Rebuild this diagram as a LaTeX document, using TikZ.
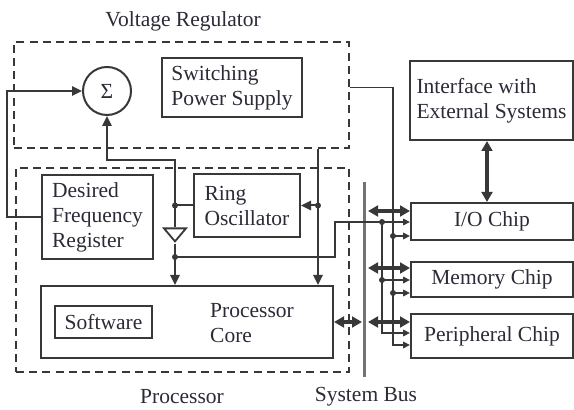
\documentclass[tikz,border=0pt]{standalone}
\usepackage{fontspec}
\setmainfont{Liberation Serif}
\usepackage{xcolor}
\usetikzlibrary{arrows.meta, positioning, calc, fit, shapes.geometric}

\definecolor{abu}{HTML}{383838}
\definecolor{tinta}{HTML}{2C2A36}

\begin{document}
\begin{tikzpicture}[
    x=0.5pt, y=-0.5pt,
    font=\fontsize{10.75}{12.5}\selectfont,
    every node/.style={text=tinta},
    kotak/.style={draw=abu, line width=1pt, align=left, inner sep=0pt},
    putus/.style={draw=abu, line width=1.1pt, dash pattern=on 4pt off 2.6pt, inner sep=0pt},
    penyangga/.style={draw=abu, fill=white, line width=0.9pt, isosceles triangle,
                      isosceles triangle stretches, shape border rotate=270,
                      inner sep=0pt, minimum width=11pt, minimum height=6.5pt},
    garis/.style={draw=abu, line width=1pt},
    bus/.style={draw=black!55, line width=1.5pt},
    panah/.style={-{Triangle[length=5pt, width=4.6pt]}, draw=abu, line width=1pt},
    panahkecil/.style={-{Triangle[length=3.4pt, width=3.2pt]}, draw=abu, line width=0.9pt},
    panahbus/.style={{Triangle[length=5pt, width=5.4pt]}-{Triangle[length=5pt, width=5.4pt]},
                     draw=abu, line width=1.7pt}
  ]
    \useasboundingbox (0,0) rectangle (574,410);

    \node (judulvr) at (183,21) {Voltage Regulator};
    \node[putus, fit={(14,42) (349,148)}] (vreg) {};
    \node[putus, fit={(16,168) (349,372)}] (proc) {};

    \node[kotak, circle, minimum size=24pt] (sigma) at (107,91) {Σ};
    \node[kotak, minimum width=70pt, minimum height=29.5pt] (psu) at (232,87.5) {Switching\\Power Supply};
    \node[kotak, minimum width=55.5pt, minimum height=42pt] (dfr) at (97.5,217) {Desired\\Frequency\\Register};
    \node[kotak, minimum width=53pt, minimum height=31.5pt] (ring) at (247,205.5) {Ring\\Oscillator};
    \node[kotak, minimum width=146pt, minimum height=36pt] (core) at (187,322) {};
    \node[kotak, minimum width=48.5pt, minimum height=16pt] (sw) at (103.5,322) {Software};
    \node[align=left] (coretxt) at (252,323) {Processor\\Core};
    \node[kotak, minimum width=81.5pt, minimum height=39.5pt] (iface) at (491.5,100.5) {Interface with\\External Systems};
    \node[kotak, minimum width=81pt, minimum height=18.5pt] (io) at (492,221.5) {I/O Chip};
    \node[kotak, minimum width=81pt, minimum height=17.5pt] (mem) at (492,279.5) {Memory Chip};
    \node[kotak, minimum width=81pt, minimum height=22pt] (peri) at (492,336) {Peripheral Chip};
    \node[penyangga] (buf) at (175,233.5) {};
    \node (lblproc) at (182,397) {Processor};
    \node (lblbus) at (366,397) {System Bus};

    \coordinate (bt) at (364,182);
    \coordinate (bb) at (364,377);
    \coordinate (k1) at (buf |- ring.west);
    \coordinate (k2) at (175,257);
    \coordinate (k3) at (382,222);
    \coordinate (k4) at (382,280);
    \coordinate (k5) at (382,333);
    \coordinate (d0) at (318,205.5);
    \coordinate (d1) at (393,236);
    \coordinate (d2) at (393,293);
    \coordinate (d3) at (393,345);

    \draw[bus] (bt) -- (bb);
    \draw[panah] (dfr.west) -- ++(-34,0) |- (sigma.west);
    \draw[garis] (ring.west) -- (k1) -- (buf);
    \draw[panah] (k1) -- (175,160) -| (sigma.south);
    \draw[garis] (buf) -- (k2);
    \draw[panah] (k2) -- (k2 |- core.north);
    \draw[panahkecil] (k2) -| (335,222) -- (io.west |- k3);
    \draw[panahkecil] (k3) -- (k5) -- (peri.west |- k5);
    \draw[panahkecil] (k4) -- (mem.west |- k4);
    \draw[panahkecil] (vreg.east |- psu.east) -| (d3) -- (peri.west |- d3);
    \draw[panahkecil] (d1) -- (io.west |- d1);
    \draw[panahkecil] (d2) -- (mem.west |- d2);
    \draw[panah] (vreg.south -| d0) -- (core.north -| d0);
    \draw[panah] (d0) -- (ring.east);
    \draw[panahbus, shorten >=1pt] (core.east) -- (bt |- core.east);
    \draw[panahbus] ([xshift=2pt]bt |- 0,211) -- (io.west |- 0,211);
    \draw[panahbus] ([xshift=2pt]bt |- 0,268) -- (mem.west |- 0,268);
    \draw[panahbus] ([xshift=2pt]bt |- 0,322) -- (peri.west |- 0,322);
    \draw[panahbus] (iface.south -| 487,0) -- (io.north -| 487,0);
    \foreach \t in {k1,k2,k3,k4,d0,d1,d2}
      \fill[abu] (\t) circle (1.5pt);
  \end{tikzpicture}
\end{document}
